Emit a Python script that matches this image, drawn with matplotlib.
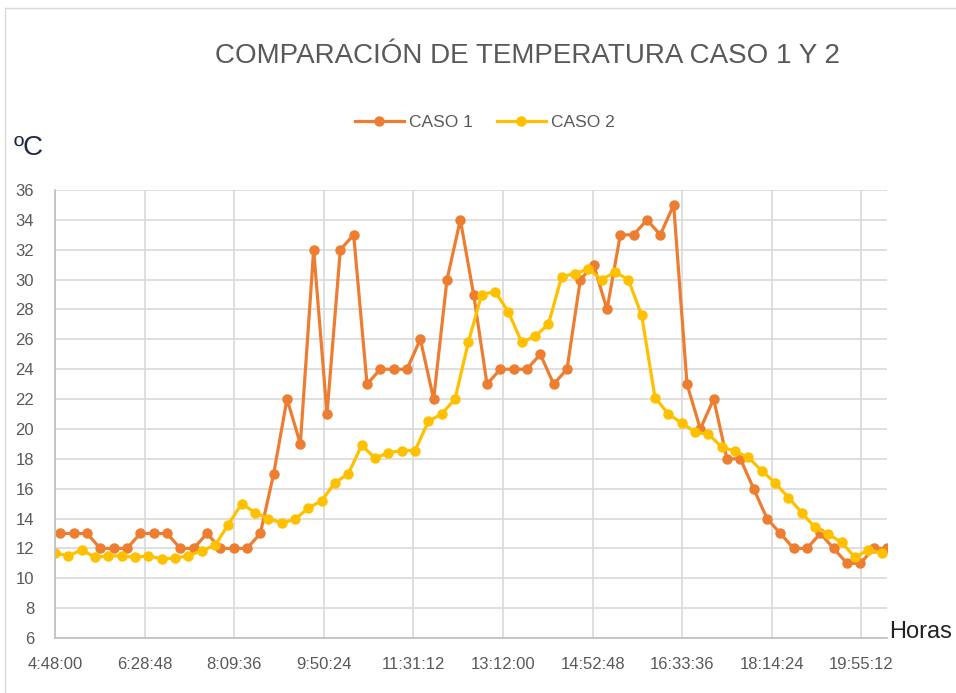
import matplotlib
matplotlib.use("Agg")
import matplotlib.pyplot as plt
import matplotlib.ticker as mticker
from matplotlib.lines import Line2D

# 15-minute readings, times as fraction of a day
caso1_start = "4:54"
caso2_start = "4:48"
step_min = 15

caso1 = [13, 13, 13, 12, 12, 12, 13, 13, 13, 12, 12, 13, 12, 12, 12, 13,
         17, 22, 19, 32, 21, 32, 33, 23, 24, 24, 24, 26, 22, 30, 34, 29,
         23, 24, 24, 24, 25, 23, 24, 30, 31, 28, 33, 33, 34, 33, 35, 23,
         20, 22, 18, 18, 16, 14, 13, 12, 12, 13, 12, 11, 11, 12, 12]

caso2 = [11.7, 11.5, 11.9, 11.4, 11.5, 11.5, 11.4, 11.5, 11.3, 11.35, 11.5,
         11.85, 12.2, 13.6, 15.0, 14.4, 14.0, 13.7, 13.95, 14.7, 15.2, 16.4,
         17.0, 18.9, 18.05, 18.4, 18.55, 18.55, 20.5, 21.0, 22.0, 25.8, 29.0,
         29.2, 27.85, 25.8, 26.2, 27.0, 30.2, 30.4, 30.7, 30.0, 30.5, 30.0,
         27.6, 22.1, 21.0, 20.4, 19.8, 19.65, 18.8, 18.5, 18.1, 17.2, 16.4,
         15.4, 14.4, 13.4, 12.95, 12.4, 11.4, 11.9, 11.7]


def day_frac(hhmm):
    h, m = hhmm.split(":")
    return (int(h) * 60 + int(m)) / 1440.0


t1 = [day_frac(caso1_start) + i * step_min / 1440.0 for i in range(len(caso1))]
t2 = [day_frac(caso2_start) + i * step_min / 1440.0 for i in range(len(caso2))]

grey = "#595959"
font = ["Liberation Sans", "DejaVu Sans"]

fig = plt.figure(figsize=(9.56, 6.93), dpi=100)
ax = fig.add_axes([55 / 956, 1 - 638 / 693, (887 - 55) / 956, (638 - 190) / 693])

ax.plot(t1, caso1, color="#ED7D31", lw=2.3, marker="o", ms=6.5, label="CASO 1")
ax.plot(t2, caso2, color="#FFC000", lw=2.3, marker="o", ms=6.5, label="CASO 2")

ax.set_xlim(0.2, 0.85)
ax.set_ylim(6, 36)
ax.set_xticks([0.2 + 0.07 * k for k in range(10)])
ax.set_yticks(range(6, 37, 2))


def fmt_time(x, pos):
    secs = int(round(x * 86400))
    return "%d:%02d:%02d" % (secs // 3600, secs % 3600 // 60, secs % 60)


ax.xaxis.set_major_formatter(mticker.FuncFormatter(fmt_time))
ax.grid(True, color="#d9d9d9", lw=1.2)
ax.set_axisbelow(True)
for s in ["top", "right"]:
    ax.spines[s].set_visible(False)
for s in ["left", "bottom"]:
    ax.spines[s].set_color("#bfbfbf")
    ax.spines[s].set_linewidth(1.2)
ax.tick_params(length=0, labelsize=12, labelcolor=grey)
ax.tick_params(axis="x", pad=14)
ax.tick_params(axis="y", pad=15)
for lab in ax.get_xticklabels() + ax.get_yticklabels():
    lab.set_family(font)

fig.text(0.552, 1 - 56 / 693, "COMPARACIÓN DE TEMPERATURA CASO 1 Y 2", ha="center",
         va="center", fontsize=20, color=grey, family=font)

leg = fig.legend(loc="center", bbox_to_anchor=(0.507, 1 - 122 / 693), ncol=2,
                 frameon=False, handlelength=2.8, handletextpad=0.3,
                 columnspacing=1.4, prop={"family": font, "size": 12.5})
for t in leg.get_texts():
    t.set_color(grey)

fig.text(14 / 956, 1 - 148 / 693, "ºC", fontsize=20, color="#1f2a44",
         family=font, va="center")
fig.text(889 / 956, 1 - 632 / 693, "Horas", fontsize=17, color="#222222",
         family=font, va="center")

# chart frame edges
fig.add_artist(Line2D([6 / 956, 1], [1 - 8 / 693, 1 - 8 / 693], color="#d9d9d9", lw=1))
fig.add_artist(Line2D([5 / 956, 5 / 956], [0, 1 - 8 / 693], color="#d9d9d9", lw=1))

fig.savefig("out.png", dpi=100)
